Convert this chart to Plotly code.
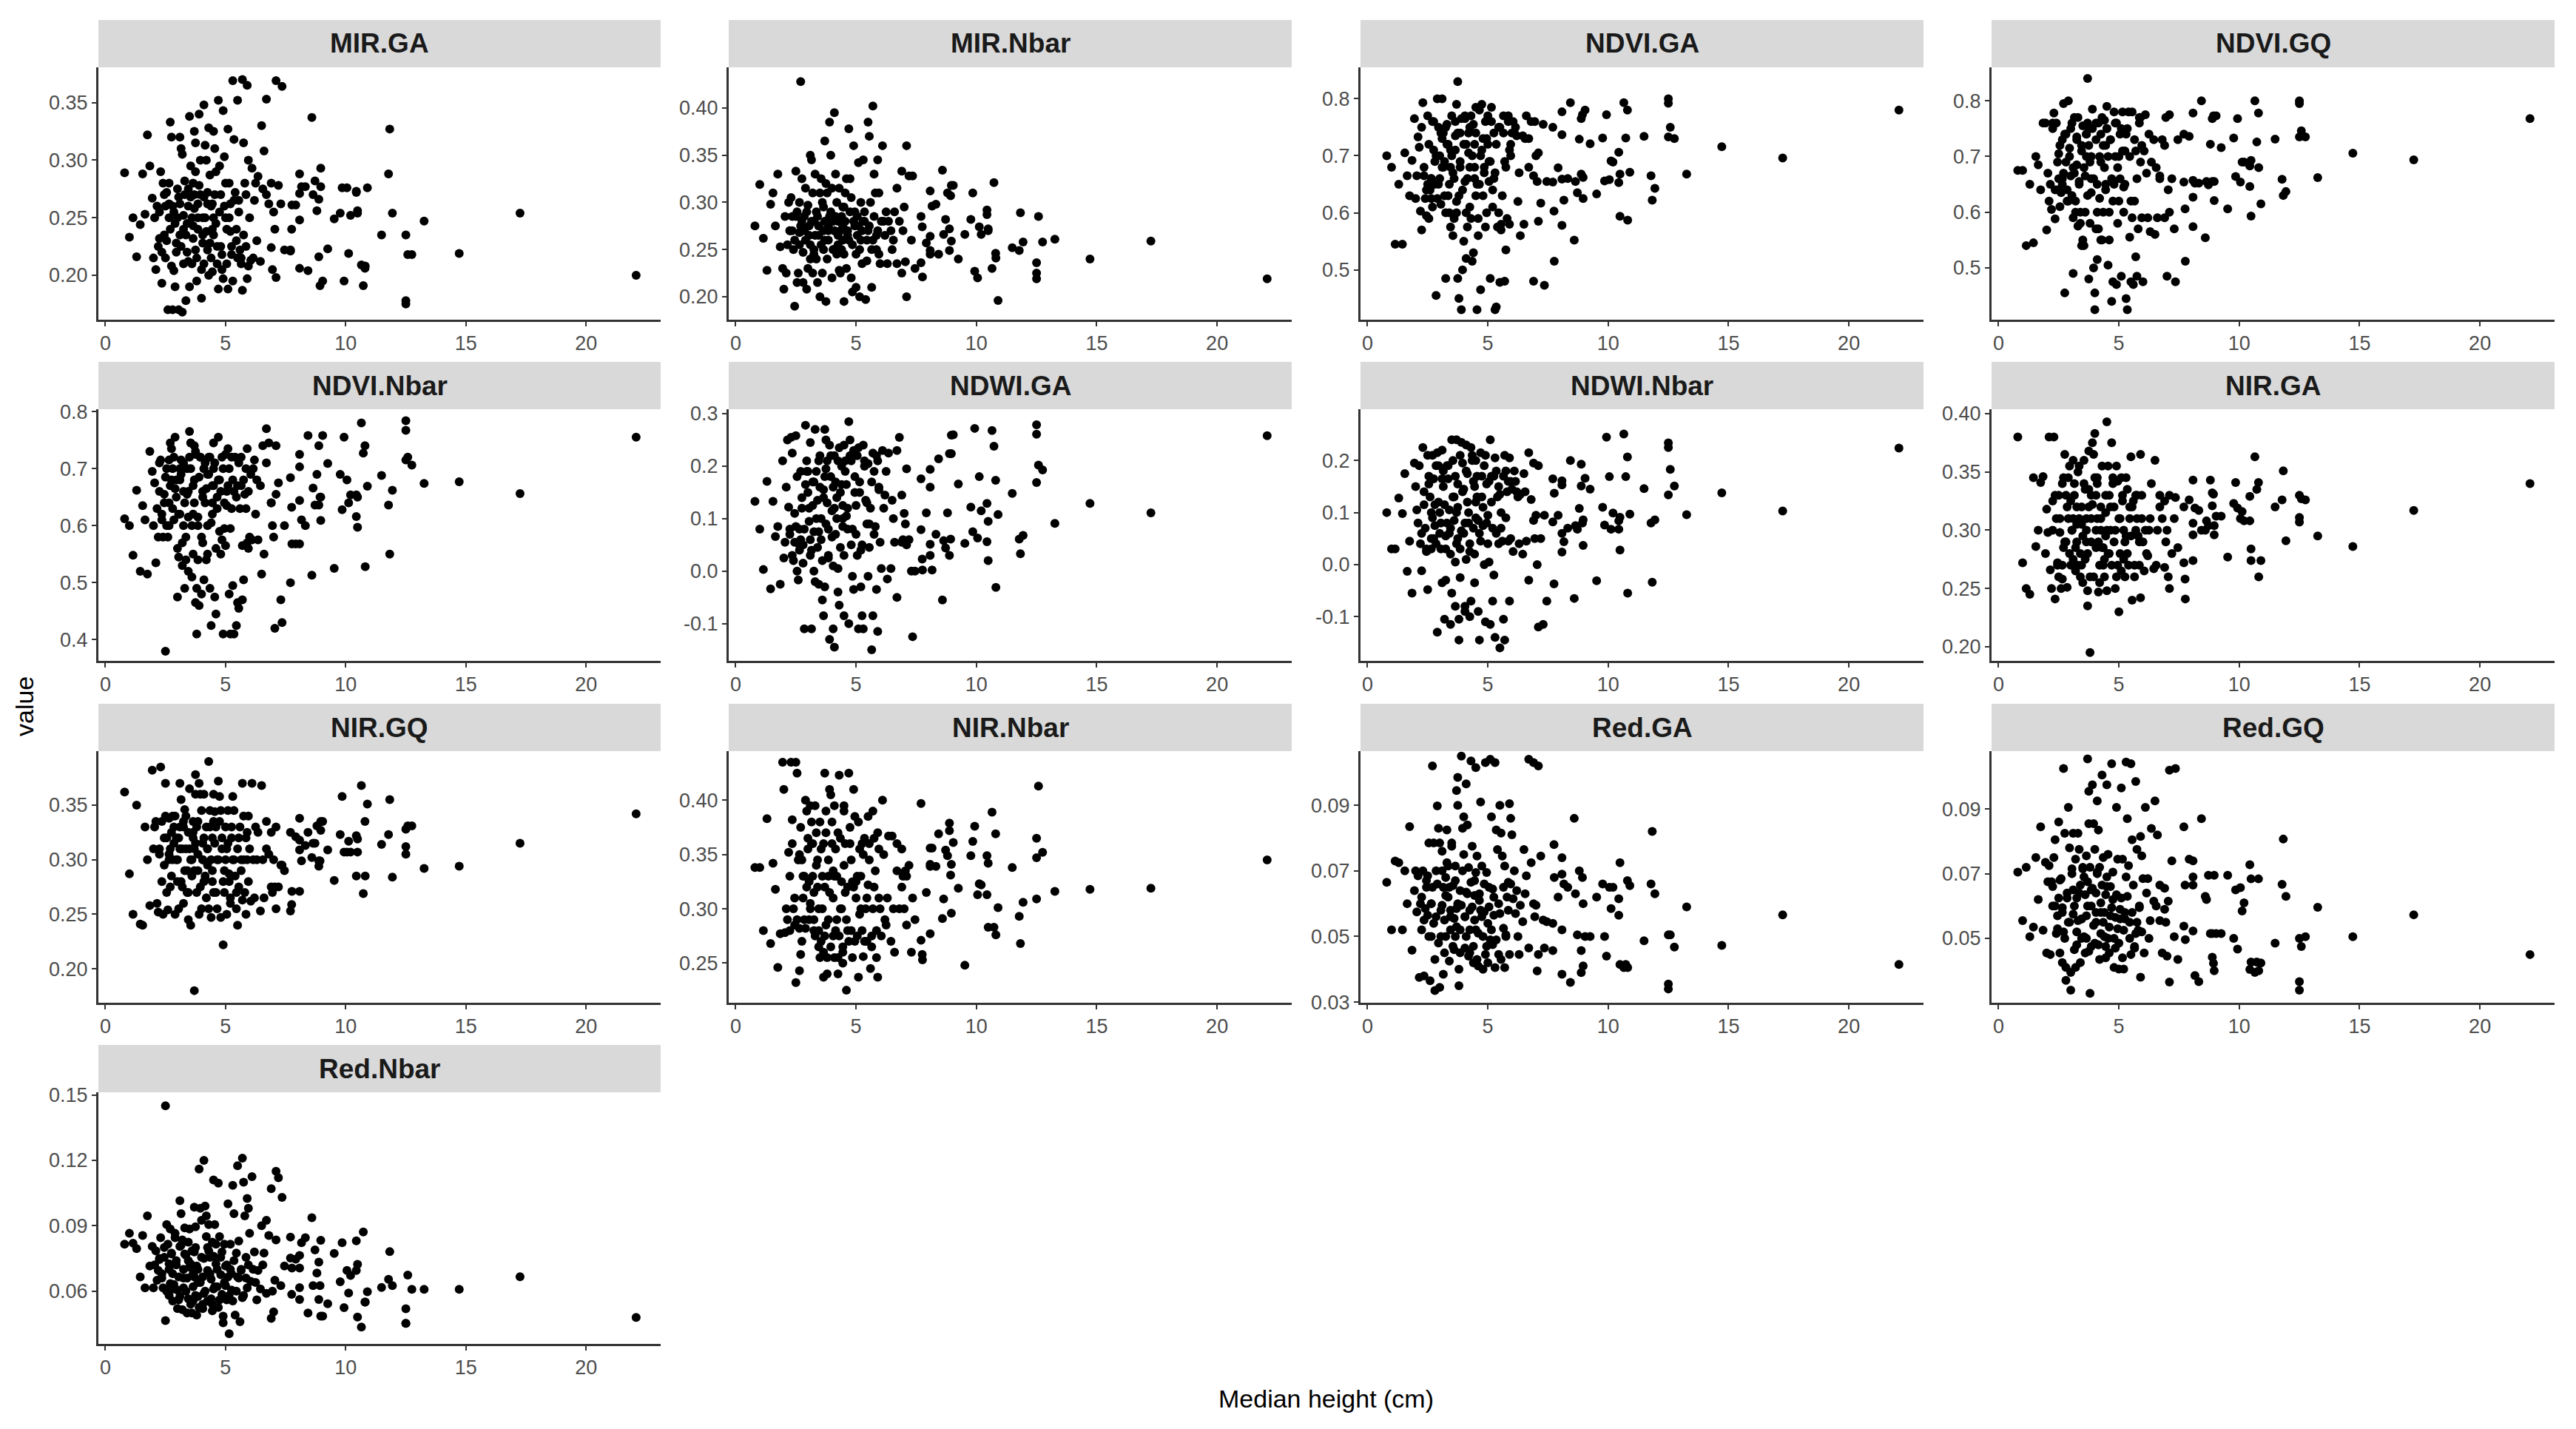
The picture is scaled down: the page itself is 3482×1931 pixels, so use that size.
import plotly.graph_objects as go

# Median height: dense part in groups, then the sparse right-hand part
HEIGHT_COLS = [[0.8],[1.0],[1.15],[1.3,1.45],[1.55,1.65],[1.75,1.85],[1.95,2.0,2.05],[2.1,2.15,2.2,2.25],[2.3,2.35,2.4,2.45,2.5],
[2.5,2.55,2.6,2.65,2.65,2.7],[2.7,2.75,2.8,2.8,2.85,2.9],[2.9,2.95,3.0,3.0,3.05,3.1,3.1],[3.1,3.15,3.2,3.2,3.25,3.25,3.3],[3.3,3.35,3.4,3.4,3.45,3.45,3.5],
[3.5,3.55,3.6,3.6,3.65,3.65,3.7],[3.7,3.75,3.75,3.8,3.8,3.85,3.85,3.9],[3.9,3.95,4.0,4.0,4.05,4.05,4.1],[4.1,4.15,4.2,4.2,4.25,4.25,4.3],[4.3,4.35,4.4,4.4,4.45,4.45,4.5],
[4.5,4.55,4.6,4.6,4.65,4.7],[4.7,4.75,4.8,4.8,4.85,4.9],[4.9,4.95,5.0,5.0,5.05,5.1],[5.1,5.15,5.2,5.2,5.25,5.3],[5.3,5.35,5.4,5.45,5.5],
[5.5,5.55,5.6,5.65,5.7],[5.7,5.75,5.8,5.85,5.9],[5.9,5.95,6.0,6.05],[6.1,6.2,6.3],[6.35,6.45],[6.5,6.6,6.7],[6.7,6.8,6.9],[6.9,7.0,7.05,7.1],[7.1,7.2,7.3],[7.35,7.45]]
HEIGHT_TAIL = [7.7,7.7,7.75,7.76,7.92,8.08,8.08,8.08,8.08,8.16,8.32,8.43,8.59,8.64,8.72,8.8,8.88,8.88,8.93,8.96,8.96,9.04,9.25,9.52,9.77,9.85,9.93,10.05,10.12,10.2,10.44,10.44,10.49,10.49,10.65,10.73,10.8,10.81,10.9,11.49,11.78,11.83,11.94,12.5,12.5,12.5,12.58,12.75,13.26,14.72,17.25,22.08]
HEIGHT_CORE = [2.25,2.35,2.45,2.55,2.65,2.75,2.85,2.95,3.05,3.15,3.25,3.35,3.45,3.55,3.65,3.7,3.75,3.85,3.95,4.05,4.1,4.15,4.25,4.35,4.45,4.5,4.55,4.65,4.75,4.85,4.95,5.05,5.15,5.25,5.35,5.45,5.55,5.65,5.75,5.85,5.95,6.15,6.25,6.55,6.95]

MIR_GA_COLS = [[.289],[.233],[.25],[.216,.244],[.288,.253],[.322,.295],[.267,.215,.25],[.205,.26,.225,.232],[.29,.193,.28,.235,.26],[.215,.272,.17,.25,.28,.24],[.333,.32,.17,.26,.204,.245],[.19,.22,.25,.275,.17,.235,.262],[.32,.31,.305,.168,.21,.24,.27],[.282,.178,.22,.245,.26,.275,.19],[.338,.295,.21,.25,.232,.28,.27],[.325,.315,.29,.195,.215,.24,.262,.278],[.34,.30,.18,.205,.228,.25,.268],[.348,.313,.30,.238,.262,.222,.20],[.328,.287,.26,.215,.24,.203,.25],[.325,.31,.29,.245,.21,.188],[.352,.295,.27,.225,.205,.197],[.343,.303,.28,.25,.24,.188],[.327,.28,.262,.238,.218,.195],[.369,.318,.272,.23,.215],[.352,.265,.222,.21,.187],[.37,.315,.28,.225,.197],[.365,.30,.25,.213],[.293,.265,.23],[.286,.212],[.33,.308,.27],[.353,.262,.224],[.28,.255,.24,.198],[.369,.278,.262],[.364,.222]]
MIR_GA_TAIL = [.222,.221,.240,.261,.261,.248,.206,.288,.271,.277,.277,.204,.337,.270,.282,.256,.216,.266,.191,.293,.277,.195,.223,.249,.254,.276,.195,.276,.219,.252,.273,.272,.256,.254,.209,.191,.206,.208,.276,.235,.288,.327,.254,.235,.178,.175,.218,.218,.247,.219,.254,.200]
MIR_GA_CORE = [.255,.22,.27,.23,.262,.208,.255,.228,.268,.225,.252,.235,.212,.268,.243,.258,.222,.25,.27,.235,.21,.25,.272,.228,.262,.235,.27,.225,.255,.218,.26,.21,.25,.225,.265,.24,.255,.215,.235,.27,.208,.215,.28,.275,.205]

MIR_NBAR_COLS = [[.275],[.319],[.262],[.228,.298],[.31,.275],[.33,.253],[.23,.208,.285],[.225,.255,.30,.27],[.305,.27,.25,.19,.285],[.333,.215,.225,.30,.268,.275],[.428,.325,.215,.247,.285,.26],[.315,.208,.23,.297,.275,.255,.24],[.35,.345,.31,.225,.25,.28,.265],[.33,.24,.215,.285,.265,.275,.31],[.20,.325,.30,.225,.25,.27,.28],[.365,.32,.195,.31,.24,.275,.26,.285],[.385,.35,.315,.22,.25,.28,.27],[.395,.33,.30,.245,.265,.28,.228],[.315,.225,.25,.285,.275,.26,.295],[.195,.31,.325,.23,.27,.26],[.378,.325,.305,.22,.205,.28],[.36,.29,.21,.245,.265,.275],[.342,.20,.30,.26,.235,.28],[.345,.28,.197,.238,.27],[.385,.37,.30,.21,.26],[.402,.33,.31,.25,.27],[.345,.31,.235,.28],[.36,.265,.235],[.28,.27],[.25,.29,.235],[.315,.28,.225],[.333,.295,.237,.20],[.36,.328,.26],[.328,.23]]
MIR_NBAR_TAIL = [.285,.236,.274,.221,.257,.312,.264,.249,.245,.296,.298,.245,.334,.266,.282,.310,.272,.249,.307,.318,.259,.318,.240,.266,.282,.31,.227,.220,.274,.266,.292,.287,.272,.27,.230,.321,.246,.241,.196,.252,.249,.289,.258,.236,.225,.219,.285,.258,.261,.240,.259,.219]
MIR_NBAR_CORE = [.27,.285,.26,.29,.255,.28,.27,.29,.265,.28,.245,.29,.275,.255,.295,.26,.28,.27,.29,.25,.27,.285,.255,.27,.295,.245,.28,.265,.29,.255,.275,.285,.25,.27,.29,.26,.275,.25,.285,.265,.245,.28,.29,.26,.27]

NDVI_GA_COLS = [[.70],[.68],[.545],[.65,.545],[.705,.665],[.63,.692],[.765,.625,.665],[.733,.715,.603,.57],[.793,.665,.625,.595,.65],[.77,.59,.64,.625,.66,.61],[.76,.71,.69,.65,.455,.625],[.80,.75,.70,.66,.615,.68,.73],[.80,.74,.63,.69,.485,.60,.72],[.755,.72,.65,.60,.575,.68,.70],[.77,.56,.59,.66,.71,.735,.62],[.79,.83,.485,.45,.63,.68,.74,.765],[.43,.50,.55,.72,.655,.765,.60],[.52,.575,.705,.74,.68,.61,.77],[.59,.515,.53,.755,.66,.72,.63],[.785,.43,.56,.59,.65,.70],[.465,.79,.63,.73,.68,.76],[.575,.60,.72,.77,.655,.69],[.485,.785,.64,.61,.74,.67],[.43,.435,.575,.60,.75],[.478,.57,.63,.77,.69],[.48,.535,.59,.77,.71],[.58,.72,.74,.76],[.74,.735,.67],[.56,.735],[.58,.77,.68],[.73,.76,.665],[.48,.70,.655,.585],[.705,.617,.755],[.473,.655]]
NDVI_GA_TAIL = [.75,.654,.603,.515,.679,.777,.737,.659,.578,.622,.66,.793,.552,.655,.635,.729,.765,.668,.772,.662,.625,.78,.721,.633,.731,.656,.772,.658,.691,.689,.706,.653,.668,.594,.793,.731,.78,.587,.671,.734,.665,.622,.643,.80,.792,.733,.75,.73,.668,.716,.696,.78]
NDVI_GA_CORE = [.75,.68,.64,.72,.66,.76,.70,.65,.74,.68,.75,.63,.71,.67,.76,.60,.74,.69,.64,.77,.72,.66,.75,.70,.68,.74,.65,.78,.71,.67,.73,.69,.76,.66,.72,.75,.58,.74,.68,.76,.70,.75,.62,.73,.76]

NDVI_GQ_COLS = [[.675],[.675],[.54],[.65,.545],[.70,.685],[.64,.76],[.76,.568,.67],[.62,.65,.605,.76],[.778,.588,.76,.64,.66],[.705,.61,.635,.65,.73,.67],[.795,.455,.69,.74,.64,.62],[.80,.715,.665,.75,.63,.59,.68],[.49,.77,.62,.60,.735,.685,.575],[.77,.655,.60,.58,.72,.54,.755],[.55,.54,.60,.665,.74,.70,.76],[.84,.48,.72,.69,.58,.635,.66,.75],[.785,.50,.455,.425,.57,.76,.65],[.515,.57,.625,.70,.74,.55,.77],[.55,.60,.765,.68,.72,.64,.75],[.79,.505,.55,.60,.73,.66],[.44,.475,.78,.65,.70,.76],[.47,.58,.62,.70,.66,.75],[.485,.78,.60,.645,.71,.74],[.445,.425,.78,.555,.62],[.475,.78,.47,.62,.71],[.52,.485,.57,.76,.69],[.77,.59,.475,.71],[.775,.59,.565],[.69,.73],[.56,.59,.665],[.66,.73,.59],[.72,.485,.64,.60],[.775,.66,.57],[.475,.73]]
NDVI_GQ_TAIL = [.74,.654,.606,.512,.736,.778,.657,.627,.574,.652,.652,.80,.554,.655,.649,.722,.768,.655,.773,.621,.655,.773,.716,.606,.733,.664,.768,.654,.69,.69,.646,.683,.593,.693,.80,.726,.778,.68,.615,.731,.659,.63,.637,.795,.80,.735,.746,.735,.662,.706,.694,.768]
NDVI_GQ_CORE = [.75,.64,.69,.72,.66,.74,.62,.70,.76,.67,.73,.65,.71,.68,.74,.63,.75,.70,.66,.73,.60,.76,.69,.72,.65,.75,.70,.73,.62,.76,.68,.74,.71,.65,.75,.70,.59,.73,.66,.77,.72,.67,.74,.68,.77]

NDVI_NBAR_COLS = [[.612],[.60],[.548],[.662,.52],[.635,.61],[.515,.73],[.695,.60,.675],[.535,.63,.58,.71],[.715,.62,.58,.655,.685],[.38,.60,.58,.64,.715,.67],[.745,.735,.70,.63,.61,.665],[.755,.68,.475,.56,.545,.62,.70],[.68,.715,.53,.57,.60,.66,.64],[.49,.54,.70,.655,.615,.52,.72],[.765,.745,.60,.51,.67,.55,.64],[.74,.725,.465,.41,.49,.54,.615,.685],[.46,.72,.48,.58,.57,.65,.70],[.505,.71,.665,.54,.55,.60,.69],[.72,.49,.605,.425,.67,.64,.70],[.745,.475,.445,.56,.63,.68],[.755,.59,.55,.66,.575,.70],[.41,.595,.565,.725,.635,.67],[.735,.48,.595,.41,.63,.68],[.495,.41,.72,.425,.67],[.465,.455,.63,.72,.565],[.47,.505,.655,.70,.57],[.735,.56,.58,.69],[.575,.715,.68],[.575,.67],[.515,.55,.71],[.77,.745,.64],[.64,.58,.42,.655],[.74,.675,.47],[.43,.60]]
NDVI_NBAR_TAIL = [.684,.50,.632,.568,.568,.725,.703,.644,.568,.61,.60,.758,.513,.666,.636,.69,.74,.636,.65,.609,.65,.758,.709,.525,.69,.628,.755,.68,.64,.654,.616,.654,.597,.65,.78,.727,.74,.528,.669,.688,.636,.55,.662,.784,.767,.715,.72,.706,.674,.677,.656,.755]
NDVI_NBAR_CORE = [.66,.61,.64,.70,.60,.68,.72,.65,.62,.69,.71,.58,.66,.70,.62,.68,.73,.60,.72,.66,.70,.64,.69,.72,.62,.67,.71,.65,.68,.72,.64,.66,.70,.72,.66,.65,.71,.67,.68,.63,.66,.70,.62,.74,.60]

NDWI_GA_COLS = [[.133],[.08],[.003],[.171,-.034],[.133,.066],[.085,-.025],[.21,.025,.055],[.16,.25,.122,.08],[.255,.225,.02,.055,.085],[.258,0.0,-.017,.04,.08,.06],[.19,.12,.05,.015,-.11,.165],[.278,.21,.19,.15,.095,.03,.06],[.245,-.11,.17,.125,.075,.0,-.02],[.27,.19,.135,.045,-.025,.075,.16],[.22,.10,.02,-.055,-.085,.155,-.03],[.27,.25,.195,.21,.13,.08,.025,-.13],[.24,.18,.115,.065,.01,-.11,-.145],[.22,.17,.14,.10,.005,-.04,-.065],[.235,.045,.20,.165,.125,.085,-.085],[.24,.21,.165,.105,.08,-.10],[.285,.25,.21,.05,-.01,-.035],[.23,.18,.125,.07,.03,-.11],[.235,.15,.04,-.03,-.085,-.11],[.24,.20,.135,.09,-.01],[.205,.045,.12,-.15,-.085],[.225,.19,.085,-.035,-.115],[.21,.155,.055,.005],[.23,.145,-.015],[.225,.005],[.135,.055,-.05],[.23,.255,.055],[.145,.11,.09,.05],[.195,.06,.0],[-.125,.00]]
NDWI_GA_TAIL = [.176,.079,.023,.002,.111,.194,.16,.051,.03,.002,.07,.214,-.055,.058,.044,.111,.224,.03,.061,.259,.224,.26,.166,.053,.122,.075,.272,.063,.18,.115,.056,.129,.095,.02,.268,.238,.173,-.031,.108,.148,.061,.033,.068,.261,.169,.279,.202,.193,.091,.129,.111,.258]
NDWI_GA_CORE = [.07,.03,.11,.18,.05,.14,.08,.19,.12,.04,.17,.10,.21,.06,.14,.18,.09,.03,.22,.16,.12,.07,.21,.15,.10,.03,.19,.12,.22,.08,.15,.22,.17,.05,.21,.13,.09,.17,.07,.22,.16,.12,.19,.10,.06]

NDWI_NBAR_COLS = [[.10],[.03],[.03],[.128,.098],[.175,-.013],[.045,-.055],[.195,.15,.105],[.08,.19,.04,-.012],[.225,.115,.07,.025,-.048],[.21,.155,.13,.03,.05,.09],[.21,.165,.115,.075,.04,-.13],[.215,.19,.10,.06,.03,-.035,.165],[.22,.18,.115,-.105,-.03,.055,.08],[.19,.165,.105,.06,.02,-.115,-.055],[.24,.20,.13,.085,.005,-.08,.04],[.24,.155,.11,-.145,-.105,-.025,.03,.065],[.235,.195,.145,.06,-.09,-.08,.01],[.23,.175,.10,.08,.025,-.10,-.07],[.225,.20,.16,.07,.02,-.035,.12],[.20,.13,.085,-.09,-.145,.045],[.215,.17,.11,.075,-.0,-.11],[.21,.155,.095,.04,.005,-.115],[.24,.17,.07,-.07,-.02,-.14],[.205,.18,.13,.04,-.16],[.135,.07,.045,-.105,-.145],[.21,.18,.14,.045,-.07],[.205,.16,.145,.025],[.18,.14,.04],[.135,.02],[.175,.045,-.03],[.215,.125,.085],[.195,.095,.0,-.12],[.19,.05,-.115],[.095,-.07]]
NDWI_NBAR_TAIL = [.165,.082,-.037,.137,.095,.161,.153,.024,.06,.044,.07,.20,-.065,.075,.068,.108,.193,.151,.08,.086,.037,.166,.145,-.031,.11,.076,.245,.169,.068,.099,.084,.068,.091,.028,.251,.169,.207,-.055,.097,.146,.08,-.034,.086,.234,.225,.134,.183,.151,.096,.138,.103,.224]
NDWI_NBAR_CORE = [.06,.14,.03,.17,.10,.05,.19,.12,.08,.15,.03,.19,.07,.13,.17,.10,.05,.21,.14,.08,.18,.12,.04,.21,.15,.09,.17,.06,.13,.19,.08,.16,.12,.17,.06,.15,.10,.17,.09,.16,.05,.16,.13,.14,.05]

NIR_GA_COLS = [[.38],[.272],[.25],[.245,.345],[.286,.30],[.341,.346],[.28,.318,.298],[.38,.266,.25,.325],[.38,.241,.31,.272,.26],[.33,.298,.25,.258,.27,.285],[.345,.365,.33,.29,.251,.31],[.345,.355,.27,.325,.30,.31,.275],[.36,.34,.265,.285,.305,.32,.27],[.35,.355,.26,.28,.32,.305,.295],[.255,.36,.335,.275,.31,.29,.248],[.235,.368,.335,.195,.26,.31,.29,.322],[.375,.365,.383,.345,.33,.285,.31],[.345,.247,.27,.255,.32,.30,.285],[.355,.285,.26,.275,.315,.295,.248],[.393,.355,.33,.28,.30,.27],[.375,.345,.32,.29,.25,.26],[.355,.342,.23,.31,.28,.265],[.345,.325,.275,.30,.26,.295],[.345,.335,.27,.32,.295],[.363,.24,.325,.26,.30],[.33,.31,.295,.27,.242],[.365,.33,.29,.265],[.30,.278,.31],[.34,.267],[.36,.30,.32],[.33,.31,.268],[.325,.30,.26,.25],[.33,.28,.31],[.328,.285]]
NIR_GA_TAIL = [.32,.272,.258,.241,.326,.343,.306,.296,.274,.319,.317,.30,.30,.308,.304,.343,.321,.332,.331,.296,.304,.312,.312,.277,.323,.341,.319,.31,.316,.308,.329,.308,.284,.274,.363,.335,.341,.26,.274,.32,.326,.351,.291,.33,.311,.307,.327,.326,.295,.286,.317,.34]
NIR_GA_CORE = [.30,.33,.27,.31,.34,.29,.32,.28,.30,.33,.29,.31,.27,.34,.30,.28,.32,.33,.26,.30,.34,.29,.31,.27,.33,.30,.28,.32,.34,.30,.27,.31,.33,.29,.28,.31,.32,.27,.33,.29,.31,.28,.30,.27,.29]

NIR_GQ_COLS = [[.362],[.287],[.25],[.35,.241],[.24,.33],[.30,.258],[.382,.31,.33],[.335,.26,.252,.305],[.385,.28,.25,.32,.34],[.37,.27,.254,.30,.338,.31],[.275,.325,.30,.34,.315,.25],[.34,.32,.28,.30,.255,.31,.33],[.37,.355,.275,.31,.26,.33,.29],[.346,.34,.27,.29,.245,.325,.31],[.365,.24,.285,.30,.32,.335,.31],[.18,.378,.36,.27,.33,.305,.29,.25],[.37,.36,.345,.255,.315,.30,.28],[.36,.282,.265,.33,.31,.295,.255],[.39,.345,.247,.30,.28,.32,.335],[.36,.344,.27,.33,.255,.30],[.372,.358,.345,.247,.31,.28],[.222,.27,.33,.30,.25,.315],[.345,.287,.265,.26,.32,.30],[.358,.345,.285,.255,.31],[.24,.275,.33,.30,.263],[.37,.34,.27,.25,.30],[.325,.34,.31,.262],[.37,.265,.30],[.325,.253],[.368,.265,.31],[.335,.305,.275],[.325,.30,.275,.255],[.33,.275,.295],[.295,.29]]
NIR_GQ_TAIL = [.325,.253,.259,.271,.321,.338,.318,.309,.271,.299,.313,.325,.302,.315,.315,.331,.294,.299,.299,.327,.335,.335,.309,.281,.323,.358,.307,.307,.317,.307,.285,.322,.307,.319,.368,.269,.335,.285,.351,.314,.323,.355,.284,.312,.305,.328,.331,.331,.292,.294,.315,.342]
NIR_GQ_CORE = [.31,.335,.295,.32,.305,.285,.33,.30,.32,.28,.335,.31,.27,.30,.325,.29,.315,.335,.275,.30,.32,.285,.31,.33,.29,.27,.315,.30,.335,.32,.29,.31,.28,.33,.30,.27,.32,.29,.30,.32,.28,.30,.33,.30,.27]

NIR_NBAR_COLS = [[.338],[.338],[.28],[.383,.268],[.342,.318],[.246,.277],[.435,.41,.278],[.30,.29,.352,.28],[.435,.382,.30,.285,.232],[.435,.425,.345,.282,.243,.258],[.375,.345,.33,.31,.29,.282],[.40,.39,.365,.355,.325,.305,.30],[.395,.38,.36,.33,.315,.29,.275],[.395,.37,.345,.32,.28,.265,.255],[.38,.355,.33,.30,.26,.237,.275],[.425,.39,.37,.24,.255,.33,.29,.315],[.41,.405,.38,.36,.335,.275,.255],[.395,.355,.29,.33,.255,.24,.275],[.423,.365,.30,.325,.265,.25,.39],[.395,.36,.225,.29,.32,.27],[.425,.375,.345,.28,.255,.32],[.41,.385,.325,.31,.275,.237],[.38,.355,.33,.30,.28,.256],[.35,.365,.30,.27,.322],[.385,.36,.245,.275,.30],[.39,.365,.335,.255,.237],[.37,.355,.30,.275],[.40,.29,.31],[.367,.27],[.367,.26,.335],[.36,.30,.32],[.355,.30,.335,.285],[.33,.34,.26],[.31,.29]]
NIR_NBAR_TAIL = [.397,.271,.258,.253,.315,.356,.341,.277,.339,.356,.339,.369,.291,.309,.354,.349,.372,.379,.331,.296,.341,.361,.319,.248,.349,.362,.376,.313,.323,.322,.313,.349,.342,.283,.389,.283,.369,.276,.301,.338,.293,.268,.306,.309,.347,.365,.413,.352,.316,.318,.319,.345]
NIR_NBAR_CORE = [.33,.36,.31,.29,.35,.27,.33,.32,.29,.36,.28,.34,.30,.27,.36,.32,.285,.345,.265,.31,.33,.28,.37,.30,.26,.34,.315,.28,.36,.325,.27,.33,.295,.36,.27,.31,.345,.265,.32,.28,.31,.35,.285,.30,.33]

RED_GA_COLS = [[.0665],[.052],[.073],[.0725,.052],[.07,.06],[.0835,.0458],[.064,.07,.0575],[.0685,.0375,.06,.052],[.07,.038,.0585,.065,.0565],[.0685,.0785,.0365,.05,.06,.065],[.102,.0785,.0335,.043,.056,.066],[.0898,.083,.0785,.0345,.05,.0595,.07],[.076,.0385,.045,.055,.0625,.068,.0725],[.0825,.0715,.0425,.065,.052,.058,.0775],[.0785,.0655,.046,.0555,.0715,.050,.0585],[.0945,.0985,.09,.035,.04,.064,.052,.0595],[.105,.083,.0865,.075,.0465,.056,.0635],[.0965,.084,.071,.044,.052,.058,.0665],[.1035,.0775,.047,.042,.055,.0625,.0695],[.1015,.0745,.041,.051,.063,.058],[.091,.0715,.04,.05,.0575,.0445],[.103,.0695,.042,.054,.065,.049],[.104,.0865,.0645,.0475,.0565,.0405],[.103,.0825,.0765,.0445,.057],[.09,.0815,.0745,.0525,.0405],[.0715,.0505,.062,.0665,.0445],[.0905,.086,.081,.0615],[.07,.064,.0445],[.0595,.0545],[.0765,.0685,.0465],[.104,.0725,.06],[.103,.0595,.0395,.0445],[.102,.0745,.055],[.0465,.0545]]
RED_GA_TAIL = [.054,.0457,.078,.068,.062,.074,.052,.0385,.069,.066,.065,.036,.086,.063,.0505,.07,.039,.0457,.068,.06,.041,.05,.05,.062,.066,.05,.044,.065,.0585,.065,.0565,.0615,.0725,.0415,.0405,.0415,.067,.0405,.0655,.0487,.066,.082,.063,.0505,.0355,.034,.0505,.0468,.059,.0473,.0566,.0415]
RED_GA_CORE = [.062,.055,.067,.05,.06,.054,.07,.048,.058,.065,.05,.062,.056,.047,.067,.053,.06,.045,.07,.056,.05,.063,.045,.059,.067,.052,.043,.061,.056,.066,.047,.059,.052,.062,.049,.06,.043,.065,.05,.058,.066,.057,.05,.063,.056]

RED_GQ_COLS = [[.0705],[.0555],[.072],[.0505,.0535],[.075,.062],[.0845,.0525],[.0735,.0455,.0675],[.0725,.045,.0675,.06],[.075,.0805,.0515,.057,.0625],[.086,.0455,.0685,.0425,.0595,.052],[.1025,.0825,.041,.037,.0625,.055],[.0905,.078,.034,.0395,.0715,.0575,.065],[.0825,.0465,.041,.0745,.0625,.052,.0555],[.0825,.0775,.0425,.0665,.056,.05,.072],[.0715,.0505,.0455,.0635,.057,.0755,.0675],[.1055,.0955,.0855,.072,.033,.0475,.06,.0655],[.0975,.0855,.0775,.0485,.055,.064,.0705],[.0925,.0835,.0435,.072,.0515,.058,.0665],[.1005,.075,.0505,.058,.0635,.0475,.069],[.0975,.076,.0455,.0535,.066,.0595],[.104,.0705,.041,.05,.0565,.0635],[.0905,.0745,.0405,.0485,.056,.0625],[.0965,.0745,.0525,.0405,.058,.069],[.1045,.087,.0725,.055,.045],[.104,.0805,.0665,.0475,.0515],[.0985,.0775,.0525,.0595,.038],[.0815,.0755,.0685,.0455],[.0905,.0685,.0555],[.084,.0615],[.0925,.082,.0555],[.0665,.0455,.059],[.0655,.0445,.0615,.0365],[.102,.074,.0505],[.1025,.0435]]
RED_GQ_TAIL = [.0845,.0538,.0665,.0496,.0745,.074,.069,.0665,.0523,.0385,.0366,.087,.063,.062,.0695,.0515,.0442,.0515,.0423,.04,.0695,.0515,.0515,.0695,.05,.065,.0467,.0657,.0585,.061,.0728,.0404,.0427,.0684,.0395,.0427,.0684,.04,.0424,.0485,.0667,.0807,.063,.0366,.034,.05,.0475,.0505,.0596,.0505,.0573,.045]
RED_GQ_CORE = [.066,.06,.053,.068,.058,.05,.064,.055,.07,.06,.048,.064,.056,.069,.05,.06,.046,.065,.054,.058,.07,.048,.061,.055,.044,.066,.05,.057,.062,.047,.053,.059,.044,.056,.063,.05,.058,.047,.055,.06,.052,.064,.05,.06,.055]

RED_NBAR_COLS = [[.0815],[.0865],[.082],[.0795,.0665],[.0855,.0615],[.0945,.0715],[.0805,.0615,.072],[.0785,.065,.0695,.0745],[.0845,.068,.0615,.0755,.0465],[.145,.0905,.0815,.0725,.058,.0635],[.0885,.0775,.0555,.068,.061,.0845],[.0865,.074,.052,.0605,.0665,.0805,.0575],[.1015,.0955,.0835,.0515,.07,.0615,.077],[.089,.0765,.066,.05,.0565,.0825,.071],[.0885,.0725,.05,.0785,.062,.0555,.0665],[.0985,.0895,.08,.0715,.049,.0575,.064,.0525],[.116,.098,.0925,.0755,.052,.0665,.059],[.12,.099,.0945,.085,.0695,.0555,.0785],[.0905,.0755,.0655,.0565,.0825,.051,.061],[.111,.0905,.0815,.0725,.062,.0525],[.1095,.085,.0675,.0755,.0585,.0485],[.0455,.0815,.0715,.0625,.056,.0665],[.10,.0405,.0815,.07,.0605,.0555],[.1085,.0955,.049,.0775,.0665],[.1175,.083,.046,.0695,.057],[.121,.11,.0945,.0755,.0615],[.1025,.098,.0865,.0645],[.1125,.078,.056],[.0695,.061],[.09,.0775,.059],[.0925,.0855,.0475],[.107,.0505,.065,.0835],[.115,.112,.0625],[.103,.0715]]
RED_NBAR_TAIL = [.0752,.0848,.0585,.0706,.0747,.0764,.0616,.0562,.0706,.0822,.0845,.05,.0937,.0625,.0789,.0683,.0562,.0733,.0625,.0833,.0485,.0485,.0542,.0773,.0643,.0822,.0524,.0695,.0591,.0672,.0695,.0831,.0723,.0481,.0435,.0871,.055,.055,.0597,.0617,.0654,.0781,.0625,.0519,.0452,.0452,.0674,.0608,.0608,.0608,.0666,.0479]
RED_NBAR_CORE = [.075,.066,.08,.06,.07,.077,.063,.072,.056,.081,.066,.06,.074,.054,.068,.078,.058,.07,.064,.054,.075,.06,.08,.068,.054,.076,.062,.07,.056,.078,.064,.072,.058,.068,.074,.06,.066,.07,.058,.066,.072,.07,.064,.072,.06]

PANEL_NAMES = ["MIR.GA","MIR.Nbar","NDVI.GA","NDVI.GQ","NDVI.Nbar","NDWI.GA","NDWI.Nbar","NIR.GA","NIR.GQ","NIR.Nbar","Red.GA","Red.GQ","Red.Nbar"]
PANEL_COLS = [MIR_GA_COLS,MIR_NBAR_COLS,NDVI_GA_COLS,NDVI_GQ_COLS,NDVI_NBAR_COLS,NDWI_GA_COLS,NDWI_NBAR_COLS,NIR_GA_COLS,NIR_GQ_COLS,NIR_NBAR_COLS,RED_GA_COLS,RED_GQ_COLS,RED_NBAR_COLS]
PANEL_TAILS = [MIR_GA_TAIL,MIR_NBAR_TAIL,NDVI_GA_TAIL,NDVI_GQ_TAIL,NDVI_NBAR_TAIL,NDWI_GA_TAIL,NDWI_NBAR_TAIL,NIR_GA_TAIL,NIR_GQ_TAIL,NIR_NBAR_TAIL,RED_GA_TAIL,RED_GQ_TAIL,RED_NBAR_TAIL]
PANEL_CORES = [MIR_GA_CORE,MIR_NBAR_CORE,NDVI_GA_CORE,NDVI_GQ_CORE,NDVI_NBAR_CORE,NDWI_GA_CORE,NDWI_NBAR_CORE,NIR_GA_CORE,NIR_GQ_CORE,NIR_NBAR_CORE,RED_GA_CORE,RED_GQ_CORE,RED_NBAR_CORE]
Y_RANGES = [(.1614,.3806),(.1757,.443),(.4126,.855),(.407,.86),(.363,.804),(-.171,.3085),(-.185,.2986),(.1879,.4038),(.1689,.3995),(.2135,.4452),(.0298,.1065),(.0301,.1079),(.0358,.1512)]
Y_TICKS = [["0.20","0.25","0.30","0.35"],["0.20","0.25","0.30","0.35","0.40"],["0.5","0.6","0.7","0.8"],["0.5","0.6","0.7","0.8"],["0.4","0.5","0.6","0.7","0.8"],["-0.1","0.0","0.1","0.2","0.3"],["-0.1","0.0","0.1","0.2"],["0.20","0.25","0.30","0.35","0.40"],["0.20","0.25","0.30","0.35"],["0.25","0.30","0.35","0.40"],["0.03","0.05","0.07","0.09"],["0.05","0.07","0.09"],["0.06","0.09","0.12","0.15"]]
X_TICKS = [0,5,10,15,20]
X_RANGE = (-0.29,23.1)
X_TITLE = "Median height (cm)"
Y_TITLE = "value"

W, H = 3482, 1931
COL_PX = [(133,893),(985,1746),(1839,2600),(2692,3453)]
ROW_PX = [(27,91,432),(489,553,893),(951,1015,1355),(1412,1476,1816)]
INK = "#4d4d4d"
AXIS = "#333333"

fig = go.Figure()
shapes, annotations = [], []
for i, name in enumerate(PANEL_NAMES):
    r, c = divmod(i, 4)
    x0, x1 = COL_PX[c]
    s0, y0, y1 = ROW_PX[r]
    k = "" if i == 0 else str(i + 1)
    xs, ys = [], []
    for cx, cy in zip(HEIGHT_COLS, PANEL_COLS[i]):
        for a, b in zip(cx, cy):
            xs.append(a); ys.append(b)
    xs += HEIGHT_TAIL + HEIGHT_CORE
    ys += PANEL_TAILS[i] + PANEL_CORES[i]
    fig.add_trace(go.Scatter(x=xs, y=ys, mode="markers", xaxis="x"+k, yaxis="y"+k,
                             marker=dict(color="black", size=12, line=dict(width=0)),
                             showlegend=False, cliponaxis=False))
    axis_common = dict(showgrid=False, zeroline=False, showline=True, linecolor=AXIS, linewidth=3,
                       ticks="outside", ticklen=6, tickwidth=2, tickcolor=AXIS, automargin=False,
                       tickfont=dict(family="Liberation Sans", size=27, color=INK))
    fig.update_layout(**{
        "xaxis"+k: dict(domain=[x0/W, x1/W], range=list(X_RANGE), anchor="y"+k,
                        tickvals=X_TICKS, ticktext=[str(v) for v in X_TICKS], **axis_common),
        "yaxis"+k: dict(domain=[1-y1/H, 1-y0/H], range=list(Y_RANGES[i]), anchor="x"+k,
                        tickvals=[float(t) for t in Y_TICKS[i]], ticktext=Y_TICKS[i], **axis_common),
    })
    shapes.append(dict(type="rect", xref="paper", yref="paper", x0=x0/W, x1=x1/W, y0=1-y0/H, y1=1-s0/H,
                       fillcolor="#d9d9d9", line=dict(width=0), layer="below"))
    annotations.append(dict(text="<b>%s</b>" % name, xref="paper", yref="paper", x=(x0+x1)/2/W, y=1-(s0+y0)/2/H,
                            xanchor="center", yanchor="middle", showarrow=False,
                            font=dict(family="Liberation Sans", size=37, color="#1a1a1a")))

annotations.append(dict(text=X_TITLE, xref="paper", yref="paper", x=1792/W, y=1-1890/H, xanchor="center", yanchor="middle",
                        showarrow=False, font=dict(family="Liberation Sans", size=34, color="black")))
annotations.append(dict(text=Y_TITLE, xref="paper", yref="paper", x=33/W, y=1-955/H, xanchor="center", yanchor="middle",
                        textangle=-90, showarrow=False, font=dict(family="Liberation Sans", size=34, color="black")))

fig.update_layout(width=W, height=H, autosize=False, margin=dict(l=0, r=0, t=0, b=0, pad=0, autoexpand=False),
                  paper_bgcolor="white", plot_bgcolor="white", shapes=shapes, annotations=annotations,
                  showlegend=False)
fig.write_html("out.html", config={"displayModeBar": False},
               post_script="document.body.style.margin='0';document.body.style.overflow='hidden';")
